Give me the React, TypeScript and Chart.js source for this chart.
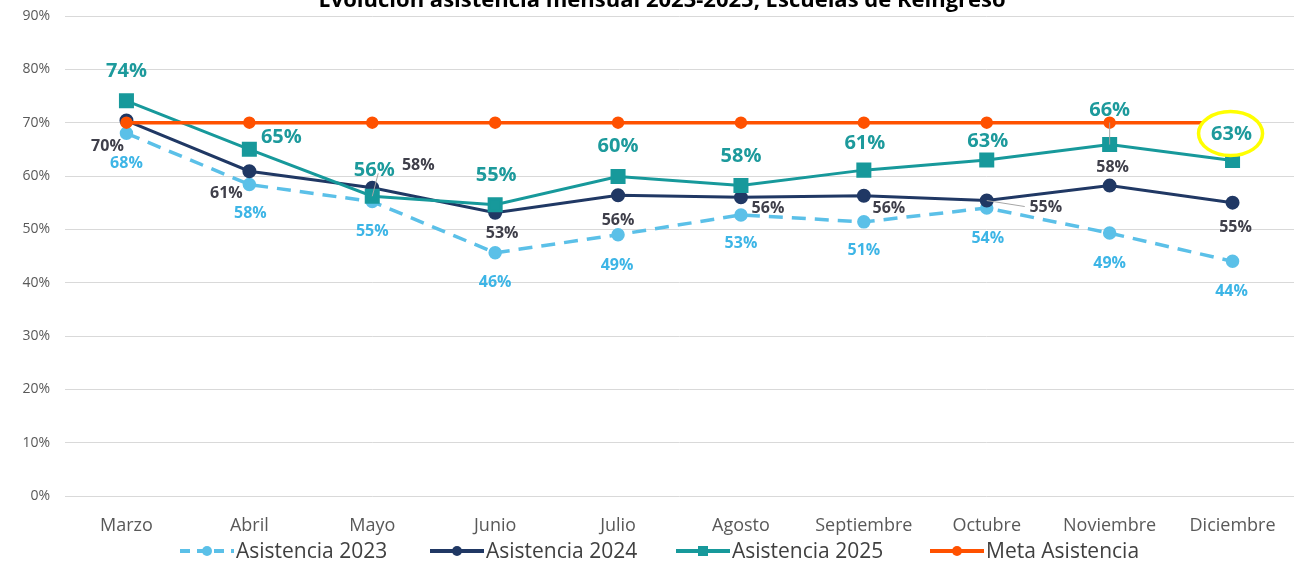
import React, { useEffect, useRef } from "react";
import { Chart, registerables } from "chart.js";

Chart.register(...registerables);

const months = ["Marzo", "Abril", "Mayo", "Junio", "Julio", "Agosto", "Septiembre", "Octubre", "Noviembre", "Diciembre"];
const asistencia2023 = [68, 58.4, 55.2, 45.6, 49, 52.7, 51.4, 54, 49.3, 44];
const asistencia2024 = [70.4, 60.9, 57.8, 53.1, 56.4, 56, 56.3, 55.4, 58.2, 55];
const asistencia2025 = [74.1, 65, 56.2, 54.6, 59.9, 58.2, 61.1, 63, 65.9, 62.9];
const metaAsistencia = [70, 70, 70, 70, 70, 70, 70, 70, 70, 70];
const yTicks = [0, 10, 20, 30, 40, 50, 60, 70, 80, 90];

const TITLE = "Evolución asistencia mensual 2023-2025, Escuelas de Reingreso";

const C2023 = "#5bc0e8";
const C2024 = "#203864";
const C2025 = "#17999b";
const CMETA = "#ff5100";

// label offsets (dx, dy) relative to each point
const off2025: [number, number][] = [[0, -30], [32, -12], [2, -26], [1, -30], [0, -30], [0, -29], [1, -27], [1, -19], [0, -34], [-1, -26]];
const off2024: [number, number][] = [[-19, 26], [-23, 22], [46, -22], [7, 21], [0, 25], [27, 11], [25, 13], [59, 7], [3, -18], [3, 25]];
const off2023: [number, number][] = [[0, 30], [1, 29], [0, 30], [0, 30], [-1, 31], [0, 29], [0, 29], [1, 30], [0, 30], [-1, 30]];

const fmt = (v: number) => Math.round(v) + "%";

const labelsPlugin = {
  id: "customLabels",
  afterDatasetsDraw(chart: any) {
    const ctx = chart.ctx;
    const meta2023 = chart.getDatasetMeta(0);
    const meta2024 = chart.getDatasetMeta(1);
    const meta2025 = chart.getDatasetMeta(2);
    ctx.save();
    // leader lines
    ctx.strokeStyle = "#a6a6a6";
    ctx.lineWidth = 1;
    const leader = (meta: any, i: number, x2: number, y2: number) => {
      const p = meta.data[i];
      ctx.beginPath();
      ctx.moveTo(p.x, p.y);
      ctx.lineTo(p.x + x2, p.y + y2);
      ctx.stroke();
    };
    leader(meta2025, 2, 6, -23);
    leader(meta2025, 8, 0, -22);
    leader(meta2024, 7, 38, 6);

    // highlight ellipse
    const pd = meta2025.data[9];
    ctx.beginPath();
    ctx.ellipse(pd.x - 2, pd.y - 27, 32, 22, 0, 0, Math.PI * 2);
    ctx.fillStyle = "#ffffff";
    ctx.fill();
    ctx.lineWidth = 3.5;
    ctx.strokeStyle = "#ffff00";
    ctx.stroke();

    ctx.textAlign = "center";
    ctx.textBaseline = "middle";
    const draw = (meta: any, vals: number[], offs: [number, number][], color: string, font: string) => {
      ctx.fillStyle = color;
      ctx.font = font;
      meta.data.forEach((p: any, i: number) => {
        ctx.fillText(fmt(vals[i]), p.x + offs[i][0], p.y + offs[i][1]);
      });
    };
    draw(meta2023, asistencia2023, off2023, "#3db5e6", "bold 16px 'Open Sans'");
    draw(meta2024, asistencia2024, off2024, "#3f3f4a", "bold 16px 'Open Sans'");
    draw(meta2025, asistencia2025, off2025, "#1d9a9c", "bold 20px 'Open Sans'");
    ctx.restore();
  },
  afterDraw(chart: any) {
    const ctx = chart.ctx;
    ctx.save();
    // title (partly cut at the top)
    ctx.font = "bold 22px 'Open Sans'";
    ctx.fillStyle = "#000000";
    ctx.textAlign = "center";
    ctx.textBaseline = "alphabetic";
    ctx.fillText(TITLE, 662, 7);

    // legend
    const items = [
      { label: "Asistencia 2023", color: C2023, dash: [10, 7], style: "circle", x: 180 },
      { label: "Asistencia 2024", color: C2024, dash: [], style: "circle", x: 430 },
      { label: "Asistencia 2025", color: C2025, dash: [], style: "rect", x: 676 },
      { label: "Meta Asistencia", color: CMETA, dash: [], style: "circle", x: 930 },
    ];
    const y = 551;
    items.forEach((it) => {
      ctx.strokeStyle = it.color;
      ctx.fillStyle = it.color;
      ctx.lineWidth = 4;
      ctx.setLineDash(it.dash);
      ctx.beginPath();
      ctx.moveTo(it.x, y);
      ctx.lineTo(it.x + 54, y);
      ctx.stroke();
      ctx.setLineDash([]);
      const cx = it.x + 27;
      ctx.beginPath();
      if (it.style === "rect") ctx.rect(cx - 5, y - 5, 10, 10);
      else ctx.arc(cx, y, 5, 0, Math.PI * 2);
      ctx.fill();
      ctx.font = "21px 'Open Sans'";
      ctx.fillStyle = "#404040";
      ctx.textAlign = "left";
      ctx.textBaseline = "middle";
      ctx.fillText(it.label, it.x + 56, y + 1);
    });
    ctx.restore();
  },
};

export default function App() {
  const ref = useRef<HTMLCanvasElement | null>(null);
  useEffect(() => {
    document.body.style.margin = "0";
    const canvas = ref.current;
    if (!canvas) return;
    const chart = new Chart(canvas, {
      type: "line",
      data: {
        labels: months,
        datasets: [
          {
            label: "Asistencia 2023",
            data: asistencia2023,
            borderColor: C2023,
            backgroundColor: C2023,
            pointBackgroundColor: C2023,
            pointBorderColor: C2023,
            borderWidth: 3.5,
            borderDash: [14, 9],
            pointRadius: 5,
            tension: 0,
            order: 4,
          },
          {
            label: "Asistencia 2024",
            data: asistencia2024,
            borderColor: C2024,
            backgroundColor: C2024,
            pointBackgroundColor: C2024,
            pointBorderColor: C2024,
            borderWidth: 3,
            pointRadius: 5.5,
            tension: 0,
            order: 3,
          },
          {
            label: "Asistencia 2025",
            data: asistencia2025,
            borderColor: C2025,
            backgroundColor: C2025,
            pointBackgroundColor: C2025,
            pointBorderColor: C2025,
            borderWidth: 3,
            pointStyle: "rect",
            pointRadius: 8.5,
            tension: 0,
            order: 2,
          },
          {
            label: "Meta Asistencia",
            data: metaAsistencia,
            borderColor: CMETA,
            backgroundColor: CMETA,
            pointBackgroundColor: CMETA,
            pointBorderColor: CMETA,
            borderWidth: 3.5,
            pointRadius: 4.5,
            tension: 0,
            order: 1,
          },
        ],
      },
      options: {
        responsive: false,
        animation: false,
        layout: { autoPadding: false, padding: { top: 16, left: 0, right: 0, bottom: 0 } },
        plugins: {
          legend: { display: false },
          title: { display: false },
          tooltip: { enabled: false },
        },
        scales: {
          x: {
            type: "category",
            offset: true,
            grid: { display: false, drawTicks: false },
            border: { display: false },
            ticks: {
              font: { family: "'Open Sans'", size: 18 },
              color: "#595959",
              padding: 19,
              maxRotation: 0,
              autoSkip: false,
            },
            afterFit(scale: any) {
              scale.height = 68;
              scale.paddingLeft = 0;
              scale.paddingRight = 0;
            },
          },
          y: {
            min: 0,
            max: 90,
            afterBuildTicks(scale: any) {
              scale.ticks = yTicks.map((v) => ({ value: v }));
            },
            grid: { color: "#d9d9d9", lineWidth: 1, drawTicks: false },
            border: { display: false },
            ticks: {
              font: { family: "'Open Sans'", size: 14 },
              color: "#595959",
              padding: 15,
              callback: (v: any) => v + "%",
            },
            afterFit(scale: any) {
              scale.width = 65;
              scale.paddingTop = 0;
              scale.paddingBottom = 0;
            },
          },
        },
      },
      plugins: [labelsPlugin],
    });
    return () => chart.destroy();
  }, []);
  return (
    <div style={{ position: "absolute", left: 0, top: 0, width: 1294, height: 564, background: "#fff" }}>
      <canvas ref={ref} width={1294} height={564} style={{ display: "block", width: 1294, height: 564 }} />
    </div>
  );
}
